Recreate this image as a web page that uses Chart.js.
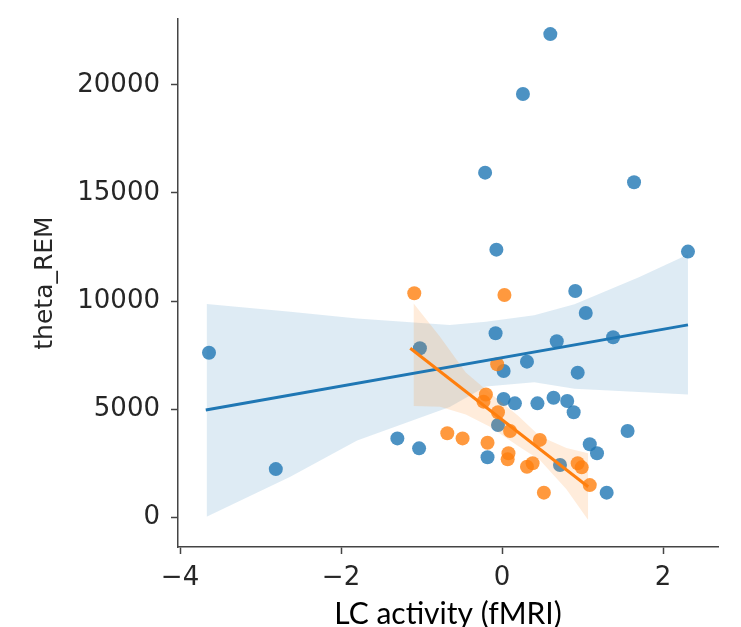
<!DOCTYPE html>
<html>
<head>
<meta charset="utf-8">
<script src="https://cdn.jsdelivr.net/npm/chart.js@4.4.1/dist/chart.umd.min.js"></script>
<style>
  html, body { margin: 0; padding: 0; background: #fff; }
</style>
</head>
<body>
<canvas id="chart" width="741" height="627"></canvas>
<script>
// tick labels
var xTicks = [-4, -2, 0, 2];
var yTicks = [0, 5000, 10000, 15000, 20000];

// blue group (scatter)
var blueX = [0.60, 0.26, -0.21, 1.64, -0.07, 2.31, 0.91, 1.04, -3.64, -2.81,
             -0.08, 0.68, 1.38, -1.02, 0.31, 0.02, 0.94, 0.02, 0.16, 0.44,
             0.64, 0.81, 0.89, -0.05, -1.30, -1.03, 1.56, 1.09, 1.18, -0.18,
             0.72, 1.30];
var blueY = [22350, 19580, 15940, 15500, 12380, 12290, 10470, 9450, 7610, 2230,
             8510, 8140, 8330, 7820, 7200, 6770, 6690, 5470, 5270, 5270,
             5530, 5380, 4860, 4270, 3650, 3190, 3990, 3380, 2960, 2780,
             2420, 1140];

// orange group (scatter)
var orangeX = [-1.09, 0.03, -0.06, -0.20, -0.23, -0.05, 0.10, 0.47, -0.68, -0.49,
               -0.18, 0.08, 0.07, 0.38, 0.31, 0.94, 0.99, 1.09, 0.52];
var orangeY = [10360, 10280, 7080, 5680, 5350, 4860, 3990, 3580, 3890, 3650,
               3450, 2960, 2680, 2500, 2340, 2500, 2310, 1490, 1140];

// regression lines (end points)
var blueLineX = [-3.68, 2.31];
var blueLineY = [4960, 8900];
var orangeLineX = [-1.14, 1.07];
var orangeLineY = [7820, 1415];

// confidence bands
var blueBandX = [-3.67, -2.63, -1.80, -0.65, -0.20, 0.40, 0.90, 1.70, 2.31];
var blueBandHi = [9870, 9510, 9200, 8900, 9050, 9350, 9850, 11100, 12150];
var blueBandLo = [30, 1880, 3550, 5100, 6050, 6250, 5950, 5800, 5680];
var orangeBandX = [-1.10, -0.77, -0.45, -0.15, 0.20, 0.47, 0.80, 1.07];
var orangeBandHi = [9900, 8350, 6700, 5750, 4700, 3750, 3200, 2960];
var orangeBandLo = [5150, 5115, 4750, 4190, 3300, 2650, 1300, -125];

function pts(xs, ys) {
    return xs.map(function (x, i) { return { x: x, y: ys[i] }; });
}

function minusLabel(v) {
    return v < 0 ? '\u2212' + Math.abs(v) : String(v);
}

var dejavu = '"DejaVu Sans", sans-serif';
var tickFont = { family: dejavu, size: 26 };
var textColor = '#262626';

var ctx = document.getElementById('chart');

new Chart(ctx, {
    type: 'scatter',
    data: {
        datasets: [
            { // 0 blue points
                data: pts(blueX, blueY),
                pointRadius: 7,
                pointBackgroundColor: 'rgba(31,119,180,0.8)',
                pointBorderWidth: 0,
                pointBorderColor: 'transparent',
                order: 10
            },
            { // 1 blue band top
                data: pts(blueBandX, blueBandHi),
                showLine: true,
                pointRadius: 0,
                borderColor: 'transparent',
                borderWidth: 0,
                fill: false,
                order: 9
            },
            { // 2 blue band bottom
                data: pts(blueBandX, blueBandLo),
                showLine: true,
                pointRadius: 0,
                borderColor: 'transparent',
                borderWidth: 0,
                backgroundColor: 'rgba(31,119,180,0.15)',
                fill: 1,
                order: 8
            },
            { // 3 orange points
                data: pts(orangeX, orangeY),
                pointRadius: 7,
                pointBackgroundColor: 'rgba(255,127,14,0.8)',
                pointBorderWidth: 0,
                pointBorderColor: 'transparent',
                order: 7
            },
            { // 4 orange band top
                data: pts(orangeBandX, orangeBandHi),
                showLine: true,
                pointRadius: 0,
                borderColor: 'transparent',
                borderWidth: 0,
                fill: false,
                order: 6
            },
            { // 5 orange band bottom
                data: pts(orangeBandX, orangeBandLo),
                showLine: true,
                pointRadius: 0,
                borderColor: 'transparent',
                borderWidth: 0,
                backgroundColor: 'rgba(255,127,14,0.15)',
                fill: 4,
                order: 5
            },
            { // 6 blue fit
                data: pts(blueLineX, blueLineY),
                showLine: true,
                pointRadius: 0,
                borderColor: '#1f77b4',
                borderWidth: 3,
                fill: false,
                order: 2
            },
            { // 7 orange fit
                data: pts(orangeLineX, orangeLineY),
                showLine: true,
                pointRadius: 0,
                borderColor: '#ff7f0e',
                borderWidth: 3,
                fill: false,
                order: 1
            }
        ]
    },
    options: {
        responsive: false,
        animation: false,
        devicePixelRatio: 1,
        layout: {
            padding: { left: 0, right: 23, top: 19, bottom: 0 }
        },
        plugins: {
            legend: { display: false },
            tooltip: { enabled: false }
        },
        scales: {
            x: {
                type: 'linear',
                position: 'bottom',
                min: -4.025,
                max: 2.683,
                afterFit: function (scale) {
                    scale.height = 80;
                    scale.paddingLeft = 0;
                    scale.paddingRight = 0;
                },
                afterBuildTicks: function (scale) {
                    scale.ticks = xTicks.map(function (v) { return { value: v }; });
                },
                ticks: {
                    font: tickFont,
                    color: textColor,
                    padding: 9,
                    maxRotation: 0,
                    callback: minusLabel
                },
                grid: {
                    drawOnChartArea: false,
                    drawTicks: true,
                    tickLength: 7,
                    tickColor: '#444',
                    tickWidth: 1.5
                },
                border: { display: true, color: '#444', width: 1.5 },
                title: {
                    display: true,
                    text: 'LC activity (fMRI)',
                    color: '#000',
                    font: { family: 'Lato, sans-serif', size: 30, lineHeight: 0.85 },
                    padding: { top: 0, bottom: 0 }
                }
            },
            y: {
                type: 'linear',
                position: 'left',
                min: -1374,
                max: 23048,
                afterFit: function (scale) {
                    scale.width = 178;
                    scale.paddingTop = 0;
                    scale.paddingBottom = 0;
                },
                afterBuildTicks: function (scale) {
                    scale.ticks = yTicks.map(function (v) { return { value: v }; });
                },
                ticks: {
                    font: tickFont,
                    color: textColor,
                    padding: 11,
                    callback: minusLabel
                },
                grid: {
                    drawOnChartArea: false,
                    drawTicks: true,
                    tickLength: 7,
                    tickColor: '#444',
                    tickWidth: 1.5
                },
                border: { display: true, color: '#444', width: 1.5 },
                title: {
                    display: true,
                    text: 'theta_REM',
                    color: textColor,
                    font: { family: dejavu, size: 25, lineHeight: 1.2 },
                    padding: { top: 30, bottom: 0 }
                }
            }
        }
    }
});
</script>
</body>
</html>
